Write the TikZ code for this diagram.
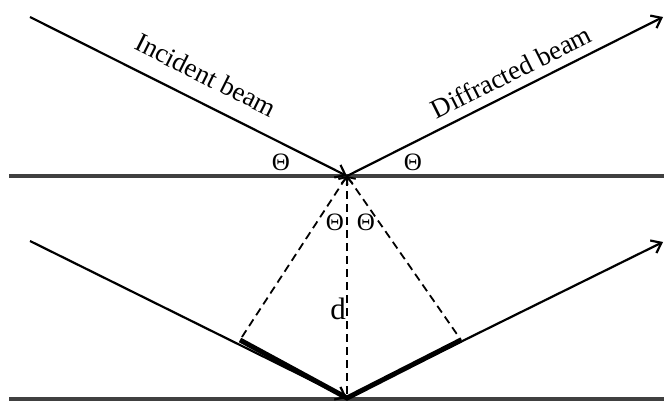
\documentclass[tikz,border=0pt]{standalone}
\usepackage{fontspec}
\setmainfont{Liberation Serif}
\usetikzlibrary{arrows.meta}
\begin{document}
\begin{tikzpicture}[x=1pt,y=-1pt,
   beam/.style={line width=2.2pt,-{Straight Barb[length=9pt,width=14pt,line width=2.2pt]}},
   plane/.style={line width=4.5pt,black!75},
   path/.style={line width=5pt},
   guide/.style={line width=1.8pt,dash pattern=on 8pt off 5pt},
   lbl/.style={font=\fontsize{27}{30}\selectfont,inner sep=0pt}]
   \useasboundingbox (0,0) rectangle (664,401);
   % planes
   \coordinate (p1l) at (9,176);   \coordinate (p1r) at (664,176);
   \coordinate (p2l) at (9,399);   \coordinate (p2r) at (664,399);
   \draw[plane] (p1l) -- (p1r);
   \draw[plane] (p2l) -- (p2r);
   % reflection points and beam ends
   \coordinate (top) at (347,176);
   \coordinate (bot) at (347,398);
   \coordinate (in1) at (30,17);
   \coordinate (out1) at (663,17);
   \coordinate (in2) at (30,241);
   \coordinate (out2) at (663,242);
   \coordinate (fl) at (240,340);
   \coordinate (fr) at (461,340);
   % path difference
   \draw[path] (fl) -- (bot) -- (fr);
   \draw[beam] (in1) -- (top);
   \draw[beam] (top) -- (out1);
   \draw[beam] (in2) -- (bot);
   \draw[beam] (bot) -- (out2);
   \foreach \e in {fl,bot,fr}
     \draw[guide,{Straight Barb[length=6pt,width=11pt,line width=1.8pt]}-] (top) -- (\e);
   % labels
   \node[lbl,rotate=-26.6] (inc) at (206,75) {Incident beam};
   \node[lbl,rotate=26.6] (dif) at (511,72) {Diffracted beam};
   \foreach \n/\x/\y in {t1/281/162, t2/413/162, t3/335/222, t4/366/222}
     \node[lbl,font=\fontsize{25}{28}\selectfont] (\n) at (\x,\y) {Θ};
   \node[lbl,font=\fontsize{31}{34}\selectfont] (d) at (338,309) {d};
\end{tikzpicture}
\end{document}
